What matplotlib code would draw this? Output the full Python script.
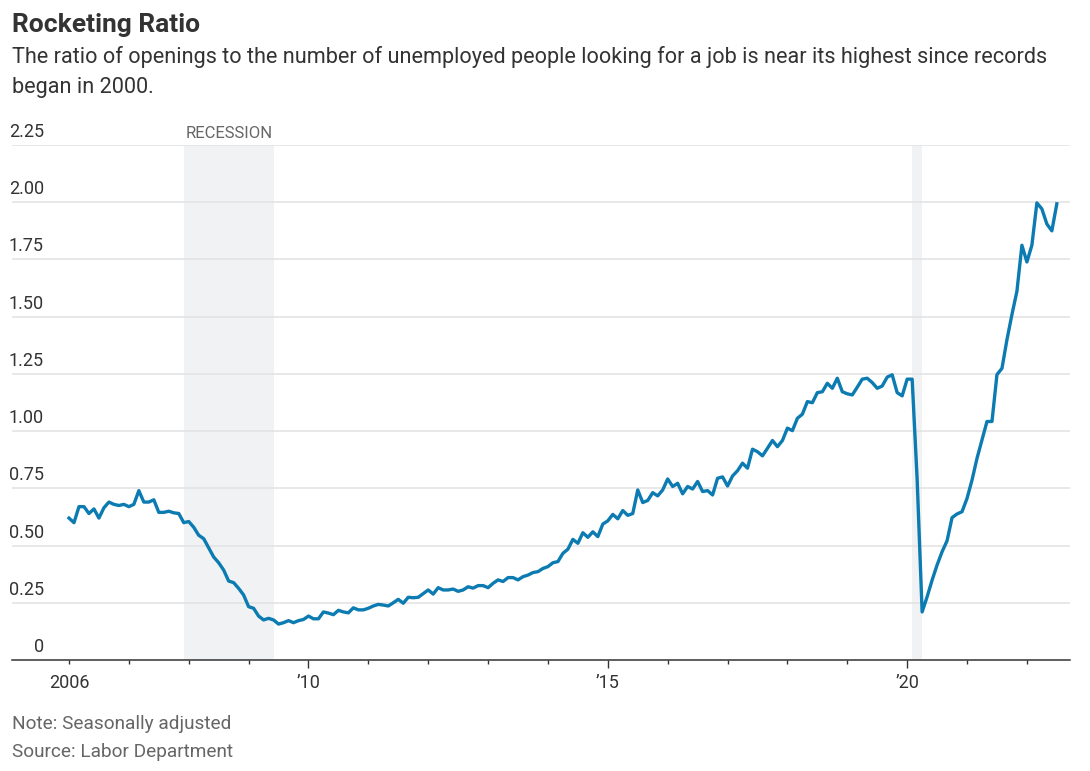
import matplotlib
matplotlib.use("Agg")
import matplotlib.pyplot as plt
import matplotlib.transforms as mtransforms
import numpy as np

# ---- data (monthly ratio, Jan 2006 .. Jul 2022) ----
start_year = 2006
v2006 = [0.62, 0.60, 0.67, 0.67, 0.64, 0.66, 0.62, 0.665, 0.69, 0.68, 0.675, 0.68]
v2007 = [0.67, 0.68, 0.74, 0.69, 0.69, 0.70, 0.645, 0.645, 0.65, 0.643, 0.64, 0.60]
v2008 = [0.605, 0.58, 0.545, 0.53, 0.49, 0.45, 0.425, 0.393, 0.345, 0.338, 0.313, 0.284]
v2009 = [0.233, 0.226, 0.192, 0.175, 0.182, 0.175, 0.157, 0.163, 0.172, 0.163, 0.172, 0.177]
v2010 = [0.192, 0.18, 0.18, 0.21, 0.205, 0.198, 0.217, 0.21, 0.206, 0.228, 0.219, 0.219]
v2011 = [0.226, 0.236, 0.243, 0.24, 0.236, 0.25, 0.265, 0.248, 0.274, 0.272, 0.274, 0.29]
v2012 = [0.306, 0.288, 0.316, 0.306, 0.306, 0.31, 0.30, 0.306, 0.32, 0.314, 0.325, 0.325]
v2013 = [0.316, 0.335, 0.35, 0.343, 0.36, 0.36, 0.35, 0.364, 0.371, 0.382, 0.386, 0.40]
v2014 = [0.408, 0.425, 0.43, 0.466, 0.484, 0.527, 0.51, 0.556, 0.536, 0.56, 0.539, 0.594]
v2015 = [0.608, 0.636, 0.617, 0.653, 0.632, 0.64, 0.743, 0.688, 0.697, 0.731, 0.717, 0.743]
v2016 = [0.791, 0.758, 0.772, 0.726, 0.758, 0.747, 0.78, 0.736, 0.74, 0.721, 0.794, 0.80]
v2017 = [0.76, 0.804, 0.827, 0.86, 0.838, 0.921, 0.91, 0.892, 0.925, 0.959, 0.932, 0.959]
v2018 = [1.013, 1.002, 1.056, 1.074, 1.129, 1.124, 1.168, 1.172, 1.209, 1.187, 1.231, 1.172]
v2019 = [1.163, 1.158, 1.192, 1.227, 1.231, 1.212, 1.187, 1.197, 1.236, 1.246, 1.168, 1.154]
v2020 = [1.227, 1.227, 0.79, 0.21, 0.276, 0.349, 0.415, 0.473, 0.521, 0.622, 0.638, 0.648]
v2021 = [0.706, 0.786, 0.881, 0.961, 1.042, 1.042, 1.247, 1.274, 1.399, 1.509, 1.611, 1.812]
v2022 = [1.739, 1.812, 1.997, 1.971, 1.905, 1.875, 1.993]

recessions = [(2007 + 11 / 12, 2009 + 5 / 12), (2020 + 1 / 12, 2020 + 3 / 12)]
y_ticks = [0, 0.25, 0.5, 0.75, 1.0, 1.25, 1.5, 1.75, 2.0, 2.25]
y_tick_labels = ["0", "0.25", "0.50", "0.75", "1.00", "1.25", "1.50", "1.75", "2.00", "2.25"]
x_label_years = [2006, 2010, 2015, 2020]
x_tick_labels = ["2006", "\u201910", "\u201915", "\u201920"]

title = "Rocketing Ratio"
subtitle_1 = "The ratio of openings to the number of unemployed people looking for a job is near its highest since records"
subtitle_2 = "began in 2000."
note = "Note: Seasonally adjusted"
source = "Source: Labor Department"

values = (v2006 + v2007 + v2008 + v2009 + v2010 + v2011 + v2012 + v2013 +
          v2014 + v2015 + v2016 + v2017 + v2018 + v2019 + v2020 + v2021 + v2022)
x = start_year + np.arange(len(values)) / 12.0

plt.rcParams['font.family'] = ['Roboto', 'DejaVu Sans']

W, H = 1090, 771
fig = plt.figure(figsize=(W / 100, H / 100), dpi=100)
ax = fig.add_axes([12 / W, 1 - 660 / H, 1058 / W, 515 / H])

dark = '#333333'
gray = '#666666'

for a, b in recessions:
    ax.axvspan(a, b, color='#f1f2f4', lw=0, zorder=0)

for yv in y_ticks[1:]:
    ax.axhline(yv, color='#e2e2e2', lw=1.1, zorder=1)

ax.plot(x, values, color='#0b7bb1', lw=2.4, zorder=3, solid_joinstyle='round')

ax.set_xlim(2005.048, 2022.72)
ax.set_ylim(0, 2.25)

for s in ['top', 'right', 'left']:
    ax.spines[s].set_visible(False)
ax.spines['bottom'].set_color(dark)
ax.spines['bottom'].set_linewidth(1.1)

ax.set_yticks([])
ax.set_xticks([2010, 2015, 2020])
ax.set_xticklabels([])
ax.set_xticks([y for y in range(2006, 2023) if y not in (2010, 2015, 2020)], minor=True)
ax.tick_params(axis='x', which='major', length=6, width=1, color=dark)
ax.tick_params(axis='x', which='minor', length=3, width=1, color=dark)

# y tick labels above gridlines, right-aligned
ytr = mtransforms.offset_copy(ax.get_yaxis_transform(), fig=fig, x=0, y=4, units='dots')
for yv, lab in zip(y_ticks, y_tick_labels):
    ax.text(32 / 1058, yv, lab, transform=ytr, ha='right', va='bottom',
            fontsize=13, color=dark)

# x tick labels
xtr = mtransforms.offset_copy(ax.get_xaxis_transform(), fig=fig, x=0, y=-14, units='dots')
for yr, lab in zip(x_label_years, x_tick_labels):
    ax.text(yr, 0, lab, transform=xtr, ha='center', va='top', fontsize=13, color=dark)

# recession label
rtr = mtransforms.offset_copy(ax.transData, fig=fig, x=2, y=4, units='dots')
ax.text(recessions[0][0], 2.25, "RECESSION", transform=rtr, ha='left', va='bottom',
        fontsize=12, color=gray)

fig.text(12 / W, 1 - 25 / H, title, fontsize=19, fontweight='bold', color=dark,
         ha='left', va='center')
fig.text(12 / W, 1 - 57 / H, subtitle_1, fontsize=15.6, color=dark, ha='left', va='center')
fig.text(12 / W, 1 - 88 / H, subtitle_2, fontsize=15.6, color=dark, ha='left', va='center')
fig.text(12 / W, 1 - 724 / H, note, fontsize=13.7, color=gray, ha='left', va='center')
fig.text(12 / W, 1 - 752 / H, source, fontsize=13.7, color=gray, ha='left', va='center')

fig.savefig("out.png", dpi=100)
